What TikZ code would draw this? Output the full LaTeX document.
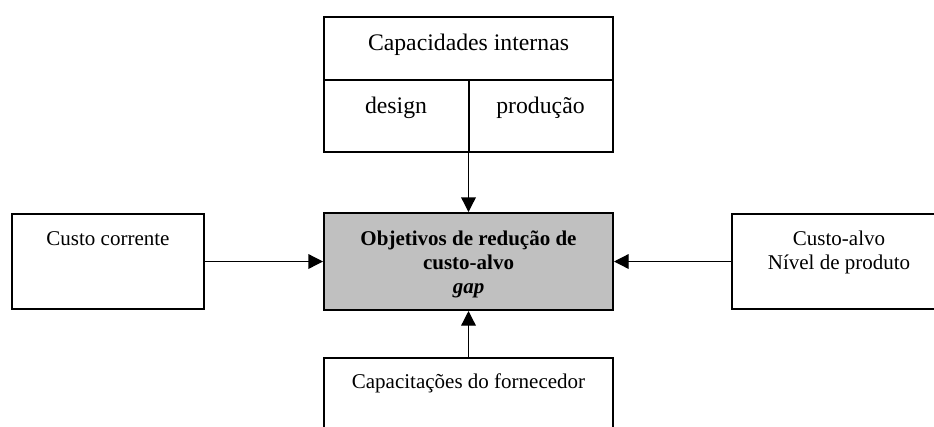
\documentclass[tikz,border=0pt]{standalone}
\usepackage{fontspec}
\setmainfont{Liberation Serif}
\usepackage{tikz}
\usetikzlibrary{arrows.meta,positioning,calc}
\definecolor{cinza}{HTML}{C0C0C0}
\tikzstyle{caixa}=[draw, line width=1.5pt, rectangle, inner sep=0pt]
\tikzstyle{seta}=[line width=1pt, -{Triangle[length=11pt,width=11pt]}]
\tikzstyle{texto}=[anchor=base, align=center, inner sep=0pt, font=\fontsize{15.75}{18}\selectfont]
\tikzstyle{textog}=[texto, font=\fontsize{17.8}{20}\selectfont]

\begin{document}
\begin{tikzpicture}[x=0.75pt,y=-0.75pt]

\useasboundingbox (0,0) rectangle (934,426);
\clip (0,0) rectangle (934,426);

% caixas
\node[caixa, minimum width=216.75pt, minimum height=101.25pt] (cap) at (468.5,84.5) {};
\node[caixa, fill=cinza, minimum width=216.75pt, minimum height=72.75pt] (gap) at (468.5,261.5) {};
\node[caixa, minimum width=144pt, minimum height=71.25pt] (corrente) at (108,261.5) {};
\node[caixa, minimum width=160.5pt, minimum height=71.25pt] (alvo) at (839,261.5) {};
\node[caixa, minimum width=216.75pt, minimum height=72.75pt] (fornec) at (468.5,406.5) {};

% divisoes
\coordinate (div) at (468.5,80);
\draw[line width=1.5pt] (cap.west |- div) -- (cap.east |- div);
\draw[line width=1.5pt] (div) -- (cap.south);

% textos
\node[textog] (tcap) at (468.5,50) {Capacidades internas};
\node[textog] (tdes) at (396,113) {design};
\node[textog] (tpro) at (540.5,113) {produção};
\node[texto, font=\fontsize{15.75}{18}\selectfont\bfseries] (tgap) at (468.5,293) {Objetivos de redução de\\custo-alvo\\\textit{gap}};
\node[texto] (tcor) at (108,245) {Custo corrente};
\node[texto] (talv) at (839,269) {Custo-alvo\\Nível de produto};
\node[texto] (tfor) at (468.5,388) {Capacitações do fornecedor};

% setas
\draw[seta] (cap.south) -- (gap.north);
\draw[seta] (fornec.north) -- (gap.south);
\draw[seta] (corrente.east) -- (gap.west);
\draw[seta] (alvo.west) -- (gap.east);

\end{tikzpicture}
\end{document}
